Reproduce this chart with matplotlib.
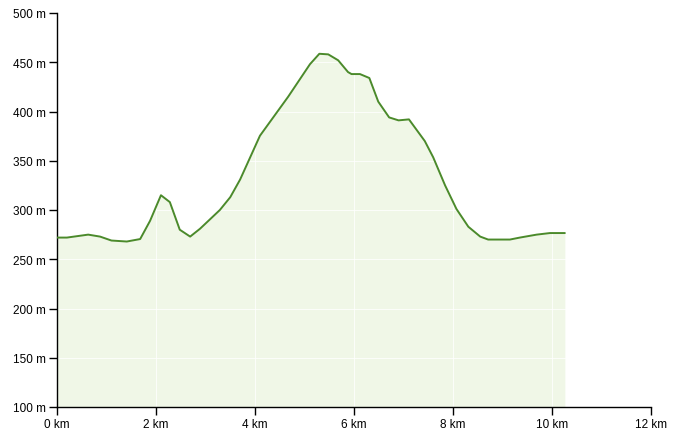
import matplotlib
matplotlib.use("Agg")
import matplotlib.pyplot as plt

dist_km = [0.0, 0.2, 0.63, 0.87, 1.1, 1.41, 1.68, 1.88, 2.1, 2.28, 2.48, 2.69, 2.89,
           3.29, 3.5, 3.7, 4.1, 4.67, 4.91, 5.11, 5.3, 5.48, 5.68, 5.88, 5.95, 6.12,
           6.31, 6.49, 6.71, 6.9, 7.11, 7.43, 7.6, 7.84, 8.07, 8.31, 8.55, 8.71,
           9.15, 9.35, 9.69, 9.96, 10.26]
elev_m = [272, 272, 275, 273, 269, 268, 270.5, 289, 315, 308, 280, 273, 281,
          300, 313, 331, 375.4, 415, 433, 448, 458.6, 458, 452, 440, 438, 438,
          434, 410, 394, 391, 392, 370, 353.5, 325, 301, 283, 273, 270,
          270, 272, 275, 276.6, 276.6]
x_ticks = [0, 2, 4, 6, 8, 10, 12]
y_ticks = [100, 150, 200, 250, 300, 350, 400, 450, 500]

plt.rcParams['font.family'] = ['Liberation Sans', 'DejaVu Sans']
fig = plt.figure(figsize=(6.79, 4.39), dpi=100)
ax = fig.add_axes([57/679, 1-408/439, 594/679, 394/439])

ax.fill_between(dist_km, elev_m, 100, color='#f0f7e7', linewidth=0, zorder=0.2)
ax.plot(dist_km, elev_m, color='#4b8a2b', linewidth=1.4, zorder=3,
        solid_joinstyle='round', solid_capstyle='round')

ax.set_xlim(0, 12)
ax.set_ylim(100, 500)
ax.set_xticks(x_ticks)
ax.set_xticklabels([f"{t} km" for t in x_ticks])
ax.set_yticks(y_ticks)
ax.set_yticklabels([f"{t} m" for t in y_ticks])
ax.grid(True, color='white', linewidth=0.7, alpha=0.8)
ax.set_axisbelow(True)
for s in ['top', 'right']:
    ax.spines[s].set_visible(False)
for s in ['left', 'bottom']:
    ax.spines[s].set_color('black')
    ax.spines[s].set_linewidth(1)
ax.tick_params(axis='both', direction='out', length=6, width=1, colors='black',
               labelsize=8.5, pad=2)

fig.savefig('out.png', dpi=100)
